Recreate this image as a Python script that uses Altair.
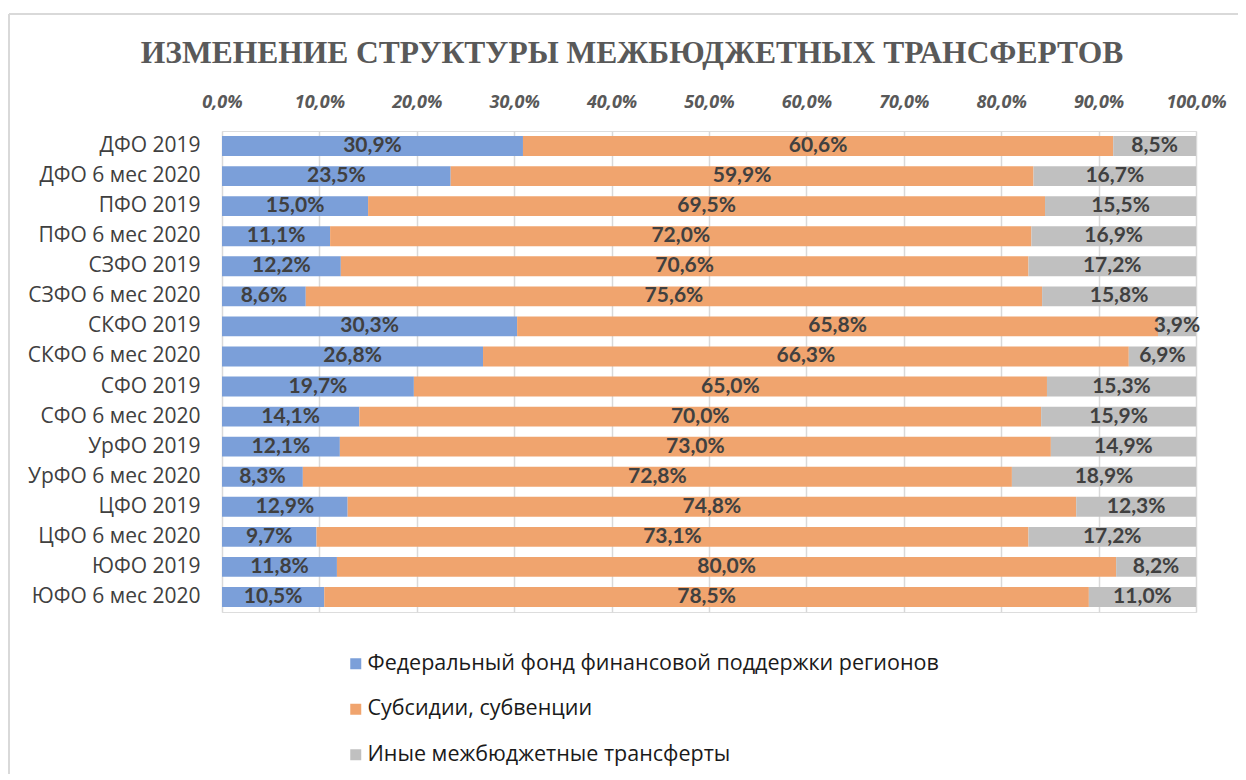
import altair as alt
import pandas as pd

categories = [
    "ДФО 2019", "ДФО 6 мес 2020", "ПФО 2019", "ПФО 6 мес 2020",
    "СЗФО 2019", "СЗФО 6 мес 2020", "СКФО 2019", "СКФО 6 мес 2020",
    "СФО 2019", "СФО 6 мес 2020", "УрФО 2019", "УрФО 6 мес 2020",
    "ЦФО 2019", "ЦФО 6 мес 2020", "ЮФО 2019", "ЮФО 6 мес 2020",
]
series = [
    "Федеральный фонд финансовой поддержки регионов",
    "Субсидии, субвенции",
    "Иные межбюджетные трансферты",
]
fund = [30.9, 23.5, 15.0, 11.1, 12.2, 8.6, 30.3, 26.8, 19.7, 14.1, 12.1, 8.3, 12.9, 9.7, 11.8, 10.5]
subs = [60.6, 59.9, 69.5, 72.0, 70.6, 75.6, 65.8, 66.3, 65.0, 70.0, 73.0, 72.8, 74.8, 73.1, 80.0, 78.5]
other = [8.5, 16.7, 15.5, 16.9, 17.2, 15.8, 3.9, 6.9, 15.3, 15.9, 14.9, 18.9, 12.3, 17.2, 8.2, 11.0]
colors = ["#7B9FD9", "#F0A46E", "#C0C0C0"]

rows = []
for i, c in enumerate(categories):
    for k, vals in enumerate([fund, subs, other]):
        v = vals[i]
        rows.append({
            "cat": c, "series": series[k], "ord": k, "v": v,
            "lbl": f"{v:.1f}%".replace(".", ","),
        })
df = pd.DataFrame(rows)

base = alt.Chart(df).transform_stack(
    stack="v", as_=["x0", "x1"], groupby=["cat"],
    sort=[alt.SortField("ord", order="ascending")], offset="normalize",
).transform_calculate(mid="(datum.x0 + datum.x1) / 2")

ysc = alt.Y("cat:N", sort=categories, title=None,
            scale=alt.Scale(paddingInner=0.34, paddingOuter=0.17),
            axis=alt.Axis(labelFont="Open Sans", labelFontSize=21, labelColor="#404040",
                          labelPadding=22, ticks=False, domain=False, labelLimit=400))

bars = base.mark_bar().encode(
    y=ysc,
    x=alt.X("x0:Q", title=None, scale=alt.Scale(domain=[0, 1], nice=False),
            axis=alt.Axis(orient="top", values=[i / 10 for i in range(11)],
                          labelExpr="replace(format(datum.value, '.1%'), '.', ',')",
                          labelFont="Open Sans", labelFontSize=18, labelFontWeight="bold",
                          labelFontStyle="italic", labelColor="#595959", labelFlush=False,
                          labelPadding=20, ticks=False, domain=False,
                          grid=True, gridColor="#D9D9D9", gridWidth=1.5)),
    x2="x1:Q",
    color=alt.Color("series:N", sort=series, title=None,
                    scale=alt.Scale(domain=series, range=colors),
                    legend=alt.Legend(orient="none", legendX=123, legendY=522,
                                      direction="vertical", symbolType="square",
                                      symbolSize=121, symbolStrokeWidth=0,
                                      labelFont="Open Sans", labelFontSize=21.5,
                                      labelColor="#1A1A1A", rowPadding=22.5,
                                      labelOffset=1, labelLimit=800)),
)

texts = base.mark_text(font="Lato", fontSize=21, fontWeight="bold", color="#404040").encode(
    y=alt.Y("cat:N", sort=categories),
    x=alt.X("mid:Q"),
    text="lbl:N",
)

border = alt.Chart(pd.DataFrame({"a": [0]})).mark_rule(color="#D9D9D9", strokeWidth=2).encode(
    x=alt.value(-213), y=alt.value(-117), y2=alt.value(700))
border2 = alt.Chart(pd.DataFrame({"a": [0]})).mark_rule(color="#D9D9D9", strokeWidth=2).encode(
    x=alt.value(-213), x2=alt.value(1100), y=alt.value(-117))

chart = alt.layer(bars, texts, border, border2).properties(
    width=974, height=481,
    title=alt.TitleParams("ИЗМЕНЕНИЕ СТРУКТУРЫ МЕЖБЮДЖЕТНЫХ ТРАНСФЕРТОВ",
                          font="Liberation Serif", fontSize=31.5, fontWeight="bold",
                          color="#595959", anchor="middle", dx=-77, dy=78, offset=22),
    autosize=alt.AutoSizeParams(type="none"),
    padding={"left": 214, "top": 123, "right": 42, "bottom": 162},
).configure_view(stroke=None).configure(background="white")

chart.save("out.html", embed_options={"renderer": "svg", "actions": False})
